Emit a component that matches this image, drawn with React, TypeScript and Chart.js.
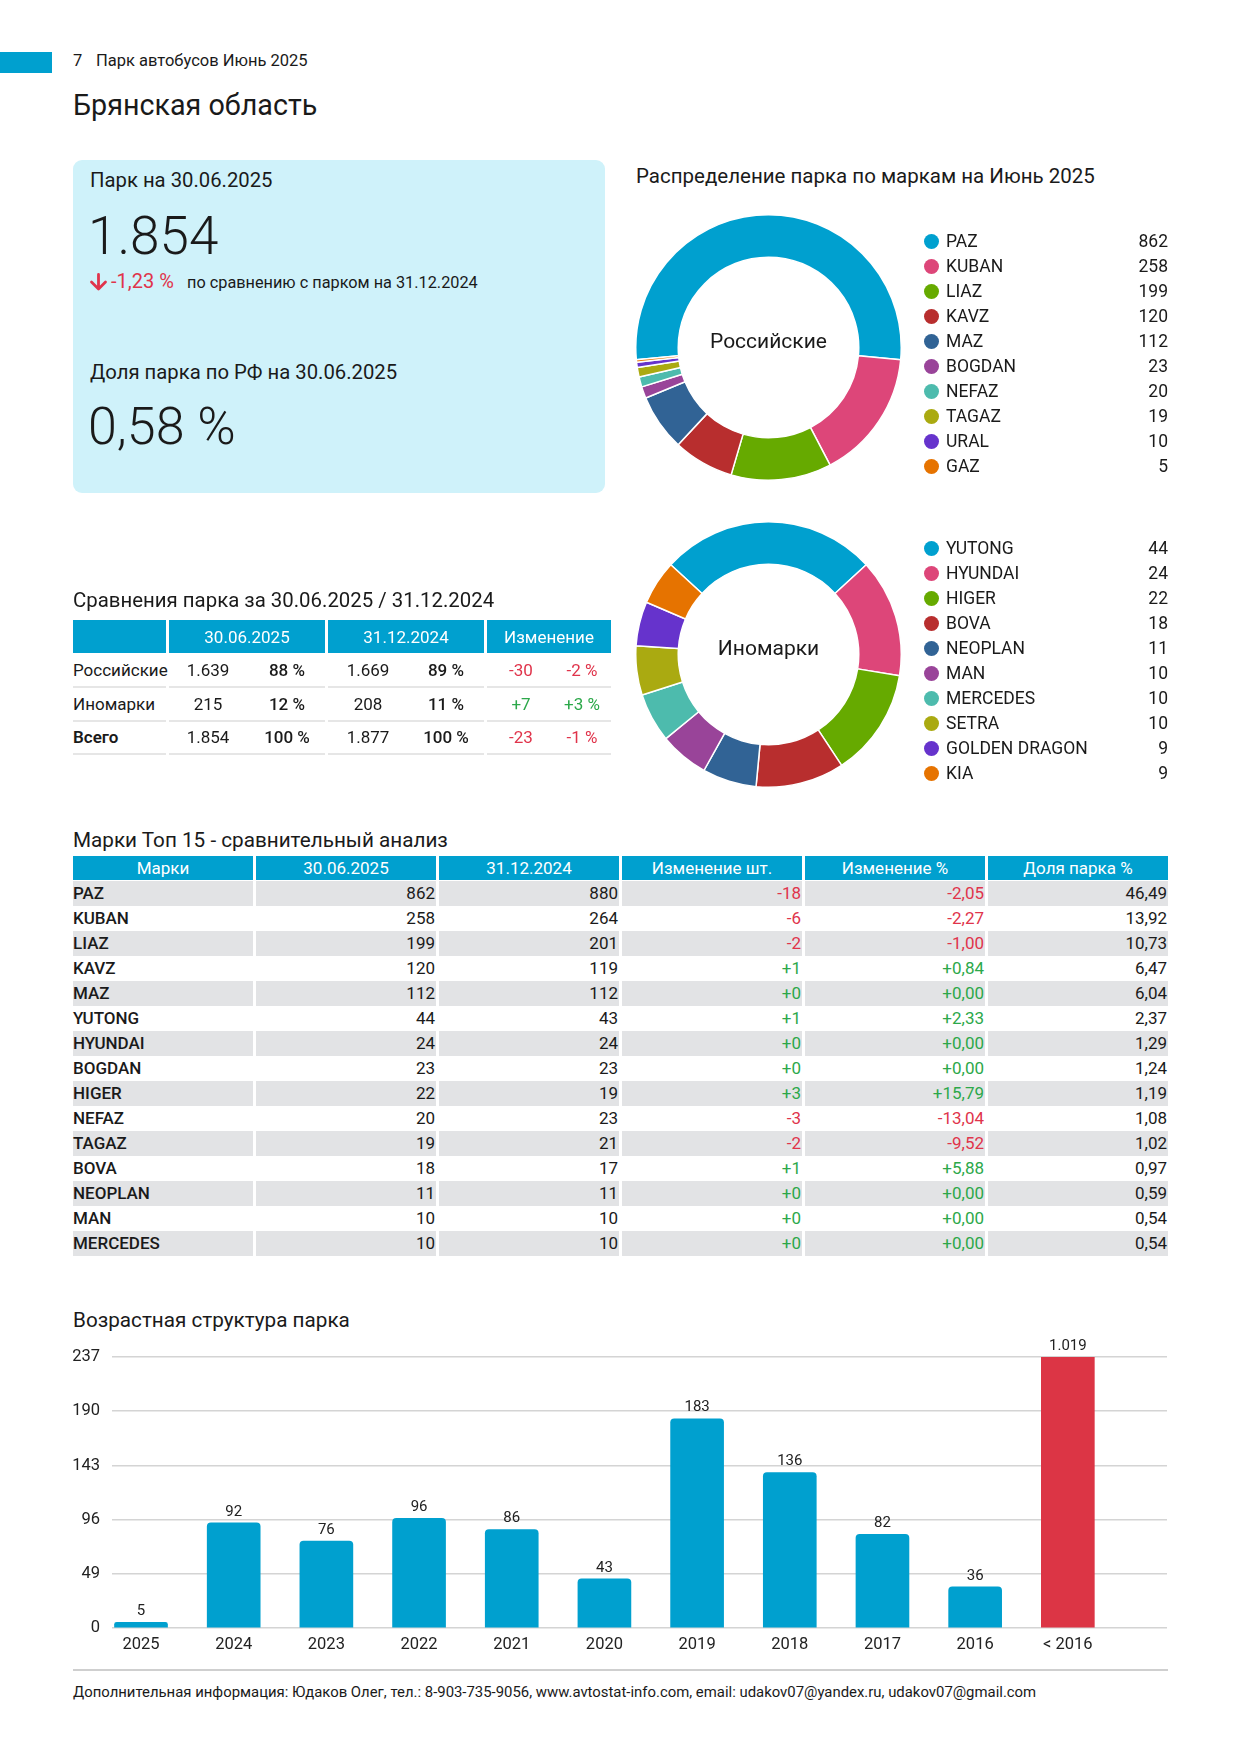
import React, { useEffect, useRef } from 'react';
import { Chart, registerables } from 'chart.js';

Chart.register(...registerables);

const FONT = "Roboto, 'Open Sans', 'Noto Sans', sans-serif";
const BLUE = '#00a0cf';
const BAR_RED = '#dc3545';
const TXT = '#1a1a1a';
const NEG = '#e0344b';
const POS = '#2ca84a';
const ROW_GRAY = '#e2e3e5';
const BOX_BG = '#cff2fa';

// ---------- data ----------
const RU_BRANDS = ['PAZ', 'KUBAN', 'LIAZ', 'KAVZ', 'MAZ', 'BOGDAN', 'NEFAZ', 'TAGAZ', 'URAL', 'GAZ'];
const RU_VALUES = [862, 258, 199, 120, 112, 23, 20, 19, 10, 5];
const FOREIGN_BRANDS = ['YUTONG', 'HYUNDAI', 'HIGER', 'BOVA', 'NEOPLAN', 'MAN', 'MERCEDES', 'SETRA', 'GOLDEN DRAGON', 'KIA'];
const FOREIGN_VALUES = [44, 24, 22, 18, 11, 10, 10, 10, 9, 9];
const SLICE_COLORS = ['#00a0cf', '#dd4679', '#66aa00', '#b82e2e', '#316395', '#994499', '#4dbbad', '#aaaa11', '#6633cc', '#e67300'];

const CMP_HEAD = ['', '30.06.2025', '31.12.2024', 'Изменение'];
const CMP_ROWS = ['Российские', 'Иномарки', 'Всего'];
const CMP_NOW = ['1.639', '215', '1.854'];
const CMP_NOW_PCT = ['88 %', '12 %', '100 %'];
const CMP_PREV = ['1.669', '208', '1.877'];
const CMP_PREV_PCT = ['89 %', '11 %', '100 %'];
const CMP_DIFF = ['-30', '+7', '-23'];
const CMP_DIFF_PCT = ['-2 %', '+3 %', '-1 %'];

const TOP_HEAD = ['Марки', '30.06.2025', '31.12.2024', 'Изменение шт.', 'Изменение %', 'Доля парка %'];
const TOP_BRANDS = ['PAZ', 'KUBAN', 'LIAZ', 'KAVZ', 'MAZ', 'YUTONG', 'HYUNDAI', 'BOGDAN', 'HIGER', 'NEFAZ', 'TAGAZ', 'BOVA', 'NEOPLAN', 'MAN', 'MERCEDES'];
const TOP_NOW = ['862', '258', '199', '120', '112', '44', '24', '23', '22', '20', '19', '18', '11', '10', '10'];
const TOP_PREV = ['880', '264', '201', '119', '112', '43', '24', '23', '19', '23', '21', '17', '11', '10', '10'];
const TOP_DIFF = ['-18', '-6', '-2', '+1', '+0', '+1', '+0', '+0', '+3', '-3', '-2', '+1', '+0', '+0', '+0'];
const TOP_DIFF_PCT = ['-2,05', '-2,27', '-1,00', '+0,84', '+0,00', '+2,33', '+0,00', '+0,00', '+15,79', '-13,04', '-9,52', '+5,88', '+0,00', '+0,00', '+0,00'];
const TOP_SHARE = ['46,49', '13,92', '10,73', '6,47', '6,04', '2,37', '1,29', '1,24', '1,19', '1,08', '1,02', '0,97', '0,59', '0,54', '0,54'];

const AGE_LABELS = ['2025', '2024', '2023', '2022', '2021', '2020', '2019', '2018', '2017', '2016', '< 2016'];
const AGE_VALUES = [5, 92, 76, 96, 86, 43, 183, 136, 82, 36, 1019];
const AGE_AXIS_MAX = 237;
const AGE_TICK_LABELS = ['0', '49', '96', '143', '190', '237'];

const FOOTER = 'Дополнительная информация: Юдаков Олег, тел.: 8-903-735-9056, www.avtostat-info.com, email: udakov07@yandex.ru, udakov07@gmail.com';

// ---------- helpers ----------
const fmtThousands = (n: number) => String(n).replace(/\B(?=(\d{3})+(?!\d))/g, '.');
const signColor = (s: string) => (s.startsWith('-') ? NEG : POS);

type TxtProps = {
  x: number;
  baseline: number;
  size: number;
  weight?: number;
  color?: string;
  align?: 'left' | 'center' | 'right';
  children: React.ReactNode;
};

function Txt({ x, baseline, size, weight = 400, color = TXT, align = 'left', children }: TxtProps) {
  const top = baseline - 0.942 * size;
  const base: React.CSSProperties = {
    position: 'absolute',
    top,
    fontSize: size,
    lineHeight: 1.2,
    fontWeight: weight,
    color,
    whiteSpace: 'nowrap',
    fontFamily: FONT,
  };
  if (align === 'left') return <div style={{ ...base, left: x }}>{children}</div>;
  if (align === 'center') return <div style={{ ...base, left: x - 400, width: 800, textAlign: 'center' }}>{children}</div>;
  return <div style={{ ...base, left: x - 800, width: 800, textAlign: 'right' }}>{children}</div>;
}

function Donut({ labels, values, cx, cy, size }: { labels: string[]; values: number[]; cx: number; cy: number; size: number }) {
  const ref = useRef<HTMLCanvasElement>(null);
  useEffect(() => {
    const total = values.reduce((a, b) => a + b, 0);
    const chart = new Chart(ref.current as HTMLCanvasElement, {
      type: 'doughnut',
      data: {
        labels,
        datasets: [{ data: values, backgroundColor: SLICE_COLORS, borderColor: '#ffffff', borderWidth: 1.5 }],
      },
      options: {
        responsive: false,
        animation: false,
        events: [],
        cutout: '68%',
        rotation: -(values[0] / total) * 180,
        layout: { padding: 0 },
        plugins: { legend: { display: false }, tooltip: { enabled: false } },
      },
    });
    return () => chart.destroy();
  }, []);
  return (
    <canvas
      ref={ref}
      width={size}
      height={size}
      style={{ position: 'absolute', left: cx - size / 2, top: cy - size / 2, width: size, height: size }}
    />
  );
}

function Legend({ labels, values, firstY }: { labels: string[]; values: number[]; firstY: number }) {
  return (
    <>
      {labels.map((l, i) => {
        const cy = firstY + i * 25;
        return (
          <React.Fragment key={l}>
            <div
              style={{
                position: 'absolute',
                left: 931 - 7.5,
                top: cy - 7.5,
                width: 15,
                height: 15,
                borderRadius: '50%',
                background: SLICE_COLORS[i],
              }}
            />
            <Txt x={946} baseline={cy + 6} size={17.5}>{l}</Txt>
            <Txt x={1168} baseline={cy + 6} size={17.5} align="right">{values[i]}</Txt>
          </React.Fragment>
        );
      })}
    </>
  );
}

function AgeChart() {
  const ref = useRef<HTMLCanvasElement>(null);
  useEffect(() => {
    const last = AGE_VALUES.length - 1;
    const valueLabels = {
      id: 'valueLabels',
      afterDatasetsDraw(chart: any) {
        const { ctx, chartArea } = chart;
        const meta = chart.getDatasetMeta(0);
        ctx.save();
        ctx.font = `15px ${FONT}`;
        ctx.fillStyle = '#222';
        ctx.textAlign = 'center';
        ctx.textBaseline = 'middle';
        meta.data.forEach((bar: any, i: number) => {
          const y = Math.max(bar.y, chartArea.top);
          ctx.fillText(fmtThousands(AGE_VALUES[i]), bar.x, y - 11);
        });
        ctx.restore();
      },
    };
    const chart = new Chart(ref.current as HTMLCanvasElement, {
      type: 'bar',
      data: {
        datasets: [
          {
            data: AGE_VALUES.map((v, i) => ({ x: i, y: v })),
            backgroundColor: (c: any) => (c.dataIndex === last ? BAR_RED : BLUE),
            borderRadius: 4,
            borderSkipped: 'start',
            barThickness: 53,
          },
        ],
      },
      options: {
        responsive: false,
        animation: false,
        events: [],
        layout: { padding: { top: 22, right: 13, left: 0, bottom: 0 } },
        plugins: { legend: { display: false }, tooltip: { enabled: false } },
        scales: {
          x: {
            type: 'linear',
            min: -0.313,
            max: 11.07,
            offset: false,
            grid: { display: false, offset: false, drawTicks: false },
            border: { display: false },
            afterBuildTicks: (scale: any) => {
              scale.ticks = AGE_LABELS.map((_, i) => ({ value: i }));
            },
            afterFit: (scale: any) => {
              scale.height = 42;
            },
            ticks: {
              callback: (v: any) => AGE_LABELS[v as number] ?? '',
              font: { family: FONT, size: 16.5 },
              color: '#222',
              padding: 7,
              maxRotation: 0,
              autoSkip: false,
            },
          },
          y: {
            type: 'linear',
            min: 0,
            max: AGE_AXIS_MAX,
            grid: { color: '#d4d4d4', lineWidth: 1.5, drawTicks: false },
            border: { display: false },
            afterBuildTicks: (scale: any) => {
              scale.ticks = AGE_TICK_LABELS.map((_, i) => ({ value: (AGE_AXIS_MAX * i) / (AGE_TICK_LABELS.length - 1) }));
            },
            afterFit: (scale: any) => {
              scale.width = 52;
            },
            ticks: {
              callback: (_v: any, i: number) => AGE_TICK_LABELS[i],
              font: { family: FONT, size: 16.5 },
              color: '#222',
              padding: 12,
            },
          },
        },
      },
      plugins: [valueLabels],
    } as any);
    return () => chart.destroy();
  }, []);
  return (
    <canvas ref={ref} width={1120} height={335} style={{ position: 'absolute', left: 60, top: 1335, width: 1120, height: 335 }} />
  );
}

function CompareTable() {
  const blocks = [
    [73, 166],
    [169, 325],
    [328, 484],
    [487, 611],
  ];
  const rowCenters = [670, 704, 737.5];
  const rowBottoms = [687, 720.5, 754];
  const colX = [208, 287, 368, 446, 521, 582];
  return (
    <>
      <Txt x={73} baseline={607} size={20.4}>Сравнения парка за 30.06.2025 / 31.12.2024</Txt>
      {blocks.map(([a, b], i) => (
        <div key={'h' + i} style={{ position: 'absolute', left: a, top: 620, width: b - a, height: 33, background: BLUE }} />
      ))}
      {CMP_HEAD.map((h, i) => (
        <Txt key={'ht' + i} x={(blocks[i][0] + blocks[i][1]) / 2} baseline={643} size={17} color="#fff" align="center">
          {h}
        </Txt>
      ))}
      {rowBottoms.map((y, r) =>
        blocks.map(([a, b], i) => (
          <div
            key={'l' + r + '-' + i}
            style={{ position: 'absolute', left: a, top: y - 1, width: b - a, height: 2, background: '#e6e6e6' }}
          />
        ))
      )}
      {CMP_ROWS.map((row, r) => {
        const bl = rowCenters[r] + 6;
        const bold = r === CMP_ROWS.length - 1;
        return (
          <React.Fragment key={row}>
            <Txt x={73} baseline={bl} size={17} weight={bold ? 600 : 400}>{row}</Txt>
            <Txt x={colX[0]} baseline={bl} size={17} align="center">{CMP_NOW[r]}</Txt>
            <Txt x={colX[1]} baseline={bl} size={17} align="center" weight={500}>{CMP_NOW_PCT[r]}</Txt>
            <Txt x={colX[2]} baseline={bl} size={17} align="center">{CMP_PREV[r]}</Txt>
            <Txt x={colX[3]} baseline={bl} size={17} align="center" weight={500}>{CMP_PREV_PCT[r]}</Txt>
            <Txt x={colX[4]} baseline={bl} size={17} align="center" color={signColor(CMP_DIFF[r])}>{CMP_DIFF[r]}</Txt>
            <Txt x={colX[5]} baseline={bl} size={17} align="center" color={signColor(CMP_DIFF_PCT[r])}>{CMP_DIFF_PCT[r]}</Txt>
          </React.Fragment>
        );
      })}
    </>
  );
}

function TopTable() {
  const colW = 180;
  const gap = 3;
  const left0 = 73;
  const colLeft = (i: number) => left0 + i * (colW + gap);
  const headTop = 856;
  const rowTop = 881;
  const rowH = 25;
  const cols = [TOP_NOW, TOP_PREV, TOP_DIFF, TOP_DIFF_PCT, TOP_SHARE];
  return (
    <>
      <Txt x={73} baseline={847} size={20.7}>Марки Топ 15 - сравнительный анализ</Txt>
      {TOP_HEAD.map((h, i) => (
        <React.Fragment key={'th' + i}>
          <div style={{ position: 'absolute', left: colLeft(i), top: headTop, width: colW, height: 24, background: BLUE }} />
          <Txt x={colLeft(i) + colW / 2} baseline={headTop + 18} size={17} color="#fff" align="center">{h}</Txt>
        </React.Fragment>
      ))}
      {TOP_BRANDS.map((b, r) => {
        const top = rowTop + r * rowH;
        const bl = top + rowH / 2 + 6;
        return (
          <React.Fragment key={b + r}>
            {r % 2 === 0 &&
              TOP_HEAD.map((_, i) => (
                <div key={'bg' + i} style={{ position: 'absolute', left: colLeft(i), top, width: colW, height: rowH, background: ROW_GRAY }} />
              ))}
            <Txt x={73} baseline={bl} size={17} weight={500}>{b}</Txt>
            {cols.map((col, c) => {
              const color = c === 2 || c === 3 ? signColor(col[r]) : TXT;
              return (
                <Txt key={'c' + c} x={colLeft(c + 1) + colW - 1} baseline={bl} size={17} align="right" color={color}>
                  {col[r]}
                </Txt>
              );
            })}
          </React.Fragment>
        );
      })}
    </>
  );
}

export default function App() {
  return (
    <div
      style={{
        position: 'absolute',
        left: 0,
        top: 0,
        width: 1240,
        height: 1755,
        background: '#fff',
        fontFamily: FONT,
        overflow: 'hidden',
      }}
    >
      {/* header */}
      <div style={{ position: 'absolute', left: 0, top: 52, width: 52, height: 21, background: BLUE }} />
      <Txt x={73} baseline={67} size={16.5}>7</Txt>
      <Txt x={96} baseline={67} size={16.5}>Парк автобусов Июнь 2025</Txt>
      <Txt x={73} baseline={115} size={28.7}>Брянская область</Txt>

      {/* info box */}
      <div style={{ position: 'absolute', left: 73, top: 160, width: 532, height: 333, background: BOX_BG, borderRadius: 9 }} />
      <Txt x={90} baseline={187} size={20.3}>Парк на 30.06.2025</Txt>
      <Txt x={88} baseline={255} size={53} weight={300}>1.854</Txt>
      <svg style={{ position: 'absolute', left: 89, top: 273 }} width="19" height="18" viewBox="0 0 19 18">
        <path d="M9.5 1.5 V16 M2.5 9 L9.5 16 L16.5 9" stroke={NEG} strokeWidth="2.8" fill="none" strokeLinecap="round" strokeLinejoin="round" />
      </svg>
      <Txt x={111} baseline={288} size={20}>
        <span style={{ color: NEG }}>-1,23 %</span>
      </Txt>
      <Txt x={187} baseline={288} size={16.3}>по сравнению с парком на 31.12.2024</Txt>
      <Txt x={90} baseline={379} size={20.3}>Доля парка по РФ на 30.06.2025</Txt>
      <Txt x={88} baseline={445} size={52} weight={300}>0,58 %</Txt>

      {/* donuts */}
      <Txt x={636} baseline={183} size={20.5}>Распределение парка по маркам на Июнь 2025</Txt>
      <Donut labels={RU_BRANDS} values={RU_VALUES} cx={768.5} cy={347.5} size={267} />
      <Txt x={768.5} baseline={348.5} size={21} align="center">Российские</Txt>
      <Legend labels={RU_BRANDS} values={RU_VALUES} firstY={241} />

      <Donut labels={FOREIGN_BRANDS} values={FOREIGN_VALUES} cx={768.5} cy={654.5} size={267} />
      <Txt x={768.5} baseline={655.5} size={21} align="center">Иномарки</Txt>
      <Legend labels={FOREIGN_BRANDS} values={FOREIGN_VALUES} firstY={548} />

      <CompareTable />
      <TopTable />

      {/* age structure */}
      <Txt x={73} baseline={1327} size={20.7}>Возрастная структура парка</Txt>
      <AgeChart />

      {/* footer */}
      <div style={{ position: 'absolute', left: 73, top: 1669, width: 1095, height: 1.5, background: '#cfcfcf' }} />
      <Txt x={73} baseline={1698} size={14.9}>{FOOTER}</Txt>
    </div>
  );
}
